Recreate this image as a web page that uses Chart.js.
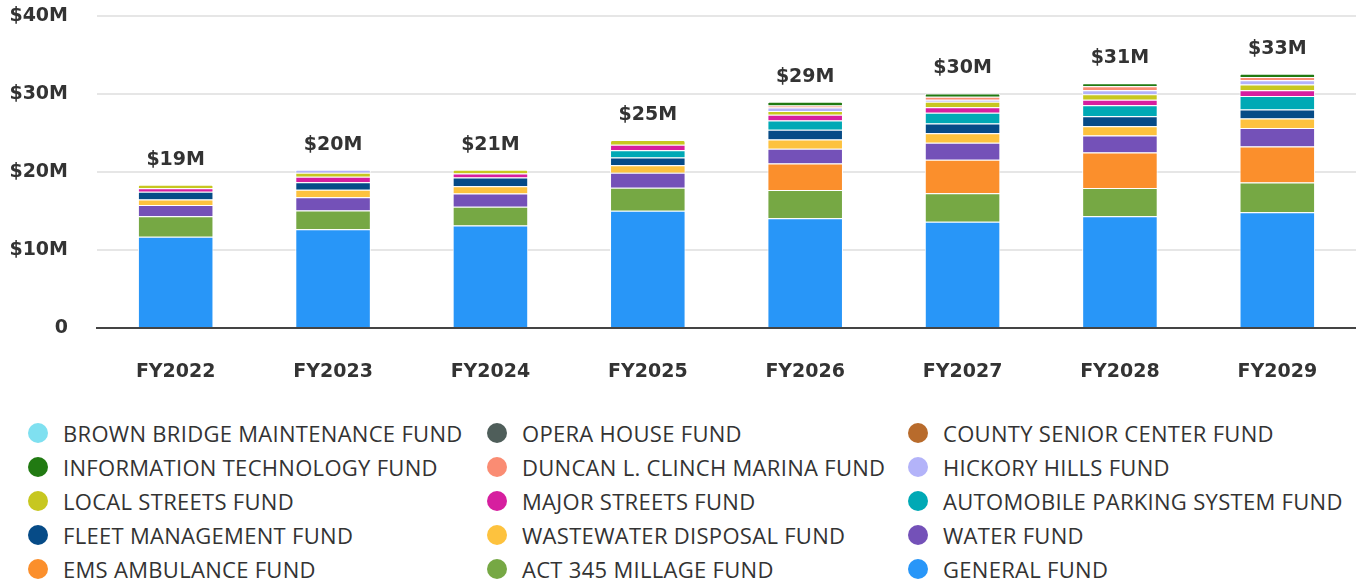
<!DOCTYPE html>
<html>
<head>
<meta charset="utf-8">
<script src="https://cdn.jsdelivr.net/npm/chart.js@4/dist/chart.umd.min.js"></script>
<style>
  body { margin: 0; background: #fff; width: 1356px; height: 582px; overflow: hidden; position: relative; }
  #chart1 { position: absolute; left: 0; top: -24px; }
  #legend {
    position: absolute; left: 28px; top: 416px;
    display: grid; grid-template-columns: 459px 421px auto;
    font-family: "Open Sans", sans-serif; font-size: 22px; letter-spacing: 0.3px; color: #333;
  }
  .item { display: flex; align-items: center; height: 34px; white-space: nowrap; }
  .dot { width: 20px; height: 20px; border-radius: 50%; margin-right: 15px; flex: none; }
</style>
</head>
<body>
<canvas id="chart1" width="1356" height="424"></canvas>
<div id="legend"></div>
<script>
// fiscal years
const years = ['FY2022', 'FY2023', 'FY2024', 'FY2025', 'FY2026', 'FY2027', 'FY2028', 'FY2029'];

// values in $M (bottom of stack first)
const generalFund      = [11.72, 12.69, 13.15, 15.06, 14.10, 13.65, 14.36, 14.85];
const act345Fund       = [2.61, 2.39, 2.40, 2.93, 3.61, 3.64, 3.61, 3.83];
const emsFund          = [0, 0, 0, 0, 3.41, 4.31, 4.55, 4.61];
const waterFund        = [1.45, 1.70, 1.70, 1.93, 1.90, 2.19, 2.19, 2.39];
const wastewaterFund   = [0.73, 0.96, 0.94, 0.96, 1.18, 1.22, 1.20, 1.21];
const fleetFund        = [0.99, 0.96, 1.12, 1.00, 1.26, 1.25, 1.26, 1.17];
const parkingFund      = [0, 0, 0, 0.93, 1.18, 1.36, 1.41, 1.72];
const majorStreets     = [0.45, 0.73, 0.53, 0.71, 0.73, 0.73, 0.73, 0.73];
const localStreets     = [0.45, 0.49, 0.48, 0.60, 0.49, 0.70, 0.71, 0.75];
const hickoryHills     = [0, 0.41, 0, 0, 0.45, 0.25, 0.51, 0.53];
const marinaFund       = [0, 0, 0, 0, 0.25, 0.40, 0.49, 0.44];
const itFund           = [0, 0, 0, 0, 0.49, 0.40, 0.41, 0.42];
const seniorCenterFund = [0, 0, 0, 0, 0, 0, 0, 0];
const operaHouseFund   = [0, 0, 0, 0, 0, 0, 0, 0];
const brownBridgeFund  = [0, 0, 0, 0, 0, 0, 0, 0];

// total labels shown above the bars
const totalLabels = ['$19M', '$20M', '$21M', '$25M', '$29M', '$30M', '$31M', '$33M'];

const yTicks = [0, 10, 20, 30, 40];

const series = [
  { name: 'GENERAL FUND', data: generalFund, color: '#2896f8' },
  { name: 'ACT 345 MILLAGE FUND', data: act345Fund, color: '#76a844' },
  { name: 'EMS AMBULANCE FUND', data: emsFund, color: '#fb8f2c' },
  { name: 'WATER FUND', data: waterFund, color: '#7451b8' },
  { name: 'WASTEWATER DISPOSAL FUND', data: wastewaterFund, color: '#fdc23e' },
  { name: 'FLEET MANAGEMENT FUND', data: fleetFund, color: '#064b87' },
  { name: 'AUTOMOBILE PARKING SYSTEM FUND', data: parkingFund, color: '#00a9b5' },
  { name: 'MAJOR STREETS FUND', data: majorStreets, color: '#d61f9f' },
  { name: 'LOCAL STREETS FUND', data: localStreets, color: '#c7c720' },
  { name: 'HICKORY HILLS FUND', data: hickoryHills, color: '#b3b3f9' },
  { name: 'DUNCAN L. CLINCH MARINA FUND', data: marinaFund, color: '#fa8c73' },
  { name: 'INFORMATION TECHNOLOGY FUND', data: itFund, color: '#217a12' },
  { name: 'COUNTY SENIOR CENTER FUND', data: seniorCenterFund, color: '#b86b2c' },
  { name: 'OPERA HOUSE FUND', data: operaHouseFund, color: '#4f5e5a' },
  { name: 'BROWN BRIDGE MAINTENANCE FUND', data: brownBridgeFund, color: '#7fe0f0' }
];

const axisFont = { family: 'DejaVu Sans', weight: 'bold', size: 19 };

// draw "$xxM" above each stack
const totalsPlugin = {
  id: 'totals',
  afterDatasetsDraw(chart) {
    const ctx = chart.ctx;
    const yScale = chart.scales.y;
    const meta = chart.getDatasetMeta(0);
    ctx.save();
    ctx.font = 'bold 19px "DejaVu Sans"';
    ctx.fillStyle = '#333';
    ctx.textAlign = 'center';
    ctx.textBaseline = 'middle';
    years.forEach((y, i) => {
      let sum = 0;
      series.forEach(s => { sum += s.data[i]; });
      const x = meta.data[i].x;
      ctx.fillText(totalLabels[i], x, yScale.getPixelForValue(sum) - 25);
    });
    ctx.restore();
  }
};

const ctx1 = document.getElementById('chart1').getContext('2d');

new Chart(ctx1, {
  type: 'bar',
  data: {
    labels: years,
    datasets: series.map(s => ({
      label: s.name,
      data: s.data,
      backgroundColor: s.color,
      borderColor: '#ffffff',
      borderWidth: 1,
      borderRadius: 4,
      categoryPercentage: 0.8,
      barPercentage: 0.6
    }))
  },
  options: {
    responsive: false,
    animation: false,
    devicePixelRatio: 1,
    layout: { padding: { top: 16, right: 0 } },
    plugins: {
      legend: { display: false },
      tooltip: { enabled: false }
    },
    scales: {
      x: {
        stacked: true,
        grid: { display: false },
        border: { color: '#444', width: 2 },
        ticks: { color: '#333', padding: 25, font: axisFont },
        afterFit(scale) { scale.height = 72; }
      },
      y: {
        stacked: true,
        min: 0,
        max: 40,
        afterBuildTicks(scale) { scale.ticks = yTicks.map(v => ({ value: v })); },
        grid: { color: '#e6e6e6', lineWidth: 2, drawTicks: false },
        border: { display: false },
        ticks: {
          color: '#333',
          padding: 29,
          font: axisFont,
          callback: v => v === 0 ? '0' : '$' + v + 'M'
        },
        afterFit(scale) { scale.width = 97; }
      }
    }
  },
  plugins: [totalsPlugin]
});

// legend in three columns, reversed order like the original
const legend = document.getElementById('legend');
series.slice().reverse().forEach(s => {
  const item = document.createElement('div');
  item.className = 'item';
  item.innerHTML = '<span class="dot" style="background:' + s.color + '"></span>' + s.name;
  legend.appendChild(item);
});
</script>
</body>
</html>
